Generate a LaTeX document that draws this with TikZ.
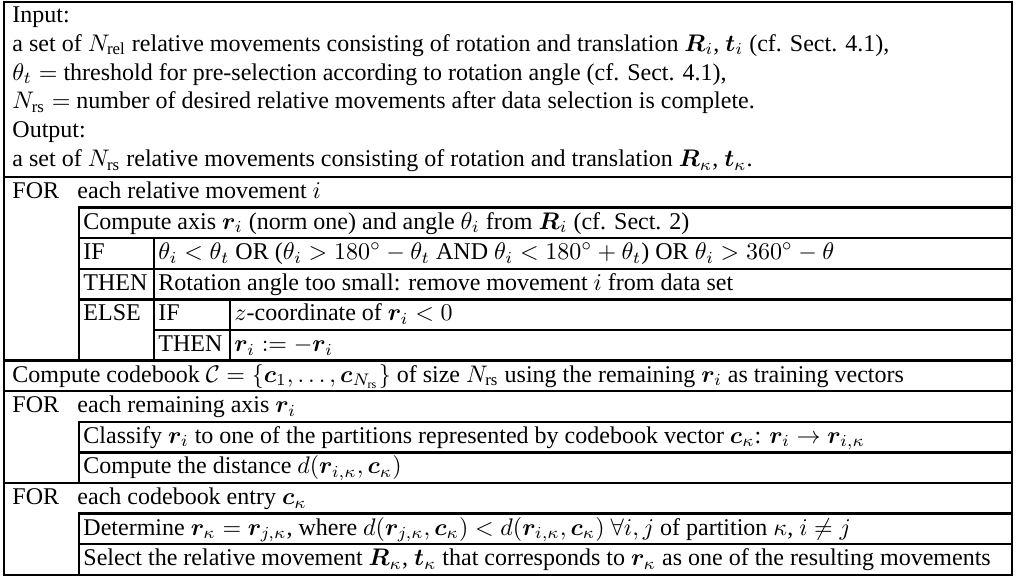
\documentclass[tikz,border=0pt]{standalone}
\usepackage{amsmath,amssymb}
\usepackage{fontspec}
\setmainfont{Liberation Serif}
\usepackage{bm}
\tikzset{
  rule/.style={line width=1.05pt, line cap=rect},
  txt/.style={anchor=base west, inner sep=0pt, font=\fontsize{10}{12}\selectfont},
}
\begin{document}
\begin{tikzpicture}[x=0.4167pt,y=-0.4167pt]
\useasboundingbox (0,0) rectangle (1036,579);
% geometry (pixel units, y downward)
\def\R{1012}
\def\xa{79}\def\xb{154}\def\xc{230}
% outer frame and full-width rules
\draw[rule] (4,2) rectangle (\R,575);
\draw[rule] (4,177) -- (\R,177);
\draw[rule] (4,360.6) -- (\R,360.6);
\draw[rule] (4,391.2) -- (\R,391.2);
\draw[rule] (4,483) -- (\R,483);
% first FOR body
\draw[rule] (\xa,360.6) -- (\xa,207.6) -- (\R,207.6);
\draw[rule] (\xa,238.2) -- (\R,238.2);
\draw[rule] (\xa,268.8) -- (\R,268.8);
\draw[rule] (\xa,299.4) -- (\R,299.4);
\draw[rule] (\xb,330) -- (\R,330);
\draw[rule] (\xb,238.2) -- (\xb,360.6);
\draw[rule] (\xc,299.4) -- (\xc,360.6);
% second FOR body
\draw[rule] (\xa,483) -- (\xa,421.8) -- (\R,421.8);
\draw[rule] (\xa,452.4) -- (\R,452.4);
% third FOR body
\draw[rule] (\xa,575) -- (\xa,513.6) -- (\R,513.6);
\draw[rule] (\xa,544.2) -- (\R,544.2);
% header
\node[txt] (in)  at (12,22.5) {Input:};
\node[txt] (in1) at (12,51.3) {a set of $N_{\text{rel}}$ relative movements consisting of rotation and translation $\bm{R}_i$, $\bm{t}_i$ (cf. Sect. 4.1),};
\node[txt] (in2) at (12,80.1) {$\theta_t =$ threshold for pre-selection according to rotation angle (cf. Sect. 4.1),};
\node[txt] (in3) at (12,108.9) {$N_{\text{rs}} =$ number of desired relative movements after data selection is complete.};
\node[txt] (out) at (12,137.7) {Output:};
\node[txt] (out1) at (12,166.5) {a set of $N_{\text{rs}}$ relative movements consisting of rotation and translation $\bm{R}_\kappa$, $\bm{t}_\kappa$.};
% rows
\node[txt] (for1) at (12,198.4) {FOR};
\node[txt] (for1t) at (77,198.4) {each relative movement $i$};
\node[txt] (axis) at (83,229) {Compute axis $\bm{r}_i$ (norm one) and angle $\theta_i$ from $\bm{R}_i$ (cf. Sect. 2)};
\node[txt] (if1) at (83,259.6) {IF};
\node[txt] (cond1) at (158,259.6) {$\theta_i < \theta_t$ OR ($\theta_i > 180^\circ - \theta_t$ AND $\theta_i < 180^\circ + \theta_t$) OR $\theta_i > 360^\circ - \theta$};
\node[txt] (then1) at (83,290.2) {THEN};
\node[txt] (act1) at (158,290.2) {Rotation angle too small: remove movement $i$ from data set};
\node[txt] (else1) at (83,320.8) {ELSE};
\node[txt] (if2) at (158,320.8) {IF};
\node[txt] (cond2) at (234,320.8) {$z$-coordinate of $\bm{r}_i < 0$};
\node[txt] (then2) at (158,351.4) {THEN};
\node[txt] (act2) at (234,351.4) {$\bm{r}_i := -\bm{r}_i$};
\node[txt] (cb) at (12,382) {Compute codebook $\mathcal{C} = \{\bm{c}_1, \ldots, \bm{c}_{N_{\text{rs}}}\}$ of size $N_{\text{rs}}$ using the remaining $\bm{r}_i$ as training vectors};
\node[txt] (for2) at (12,412.6) {FOR};
\node[txt] (for2t) at (77,412.6) {each remaining axis $\bm{r}_i$};
\node[txt] (cls) at (83,443.2) {Classify $\bm{r}_i$ to one of the partitions represented by codebook vector $\bm{c}_\kappa$: $\bm{r}_i \rightarrow \bm{r}_{i,\kappa}$};
\node[txt] (dist) at (83,473.8) {Compute the distance $d(\bm{r}_{i,\kappa}, \bm{c}_\kappa)$};
\node[txt] (for3) at (12,504.4) {FOR};
\node[txt] (for3t) at (77,504.4) {each codebook entry $\bm{c}_\kappa$};
\node[txt] (det) at (83,535) {Determine $\bm{r}_\kappa = \bm{r}_{j,\kappa}$, where $d(\bm{r}_{j,\kappa}, \bm{c}_\kappa) < d(\bm{r}_{i,\kappa}, \bm{c}_\kappa)\ \forall i, j$ of partition $\kappa$, $i \neq j$};
\node[txt] (sel) at (83,565.6) {Select the relative movement $\bm{R}_\kappa$, $\bm{t}_\kappa$ that corresponds to $\bm{r}_\kappa$ as one of the resulting movements};
\end{tikzpicture}
\end{document}
